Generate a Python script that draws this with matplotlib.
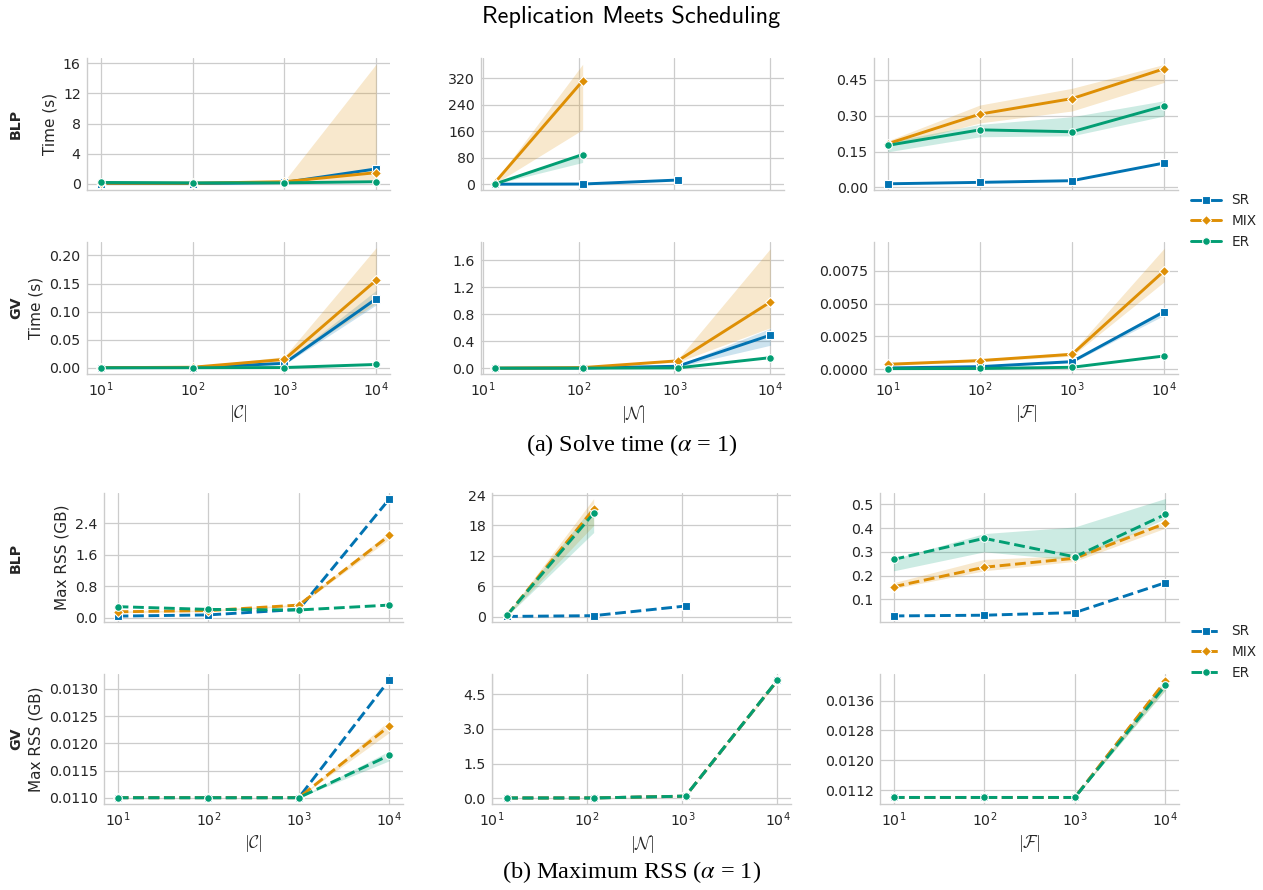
import os
import numpy as np
import matplotlib
matplotlib.use("Agg")
import matplotlib.pyplot as plt
from matplotlib import font_manager as fm
import seaborn as sns
from matplotlib.lines import Line2D
from matplotlib.ticker import ScalarFormatter, NullLocator

sns.set_theme(style="whitegrid")

# register matplotlib's bundled DejaVu Sans under an unambiguous name
_ttf = os.path.join(matplotlib.get_data_path(), "fonts", "ttf")
for _f, _w in [("DejaVuSans.ttf", 400), ("DejaVuSans-Bold.ttf", 700)]:
    _p = os.path.join(_ttf, _f)
    if os.path.exists(_p):
        fm.fontManager.ttflist.append(fm.FontEntry(fname=_p, name="DVSansRef", style="normal",
                                                   variant="normal", weight=_w, stretch="normal",
                                                   size="scalable"))
try:
    fm.fontManager._findfont_cached.cache_clear()
except Exception:
    pass
plt.rcParams['font.family'] = ['DVSansRef', 'DejaVu Sans']

nan = np.nan
# ---------------- data ----------------
series = ["SR", "MIX", "ER"]
colors = {"SR": "#0173B2", "MIX": "#DE8F05", "ER": "#029E73"}
markers = {"SR": "s", "MIX": "D", "ER": "o"}

x_c = [10, 100, 1000, 10000]
x_f = [10, 100, 1000, 10000]
x_n_time = [13.3, 110, 1080, 10000]
x_n_rss = [14.4, 117, 1080, 10000]

# Solve time, BLP, |C|
t_blp_c_sr = [0.05, 0.05, 0.2, 2.0]
t_blp_c_mix = [0.1, 0.1, 0.3, 1.5]
t_blp_c_mix_lo = [0.05, 0.05, 0.2, 0.3]
t_blp_c_mix_hi = [0.15, 0.15, 0.4, 15.9]
t_blp_c_er = [0.2, 0.15, 0.15, 0.3]
# Solve time, GV, |C|
t_gv_c_sr = [0.0002, 0.0005, 0.008, 0.123]
t_gv_c_sr_lo = [0.0001, 0.0003, 0.006, 0.112]
t_gv_c_sr_hi = [0.0003, 0.0007, 0.010, 0.138]
t_gv_c_mix = [0.0003, 0.001, 0.015, 0.156]
t_gv_c_mix_lo = [0.0002, 0.0007, 0.011, 0.115]
t_gv_c_mix_hi = [0.0004, 0.0015, 0.020, 0.214]
t_gv_c_er = [0.0001, 0.0002, 0.0005, 0.006]
# Solve time, BLP, |N|
t_blp_n_sr = [0.5, 1.0, 13, nan]
t_blp_n_mix = [5, 312, nan, nan]
t_blp_n_mix_lo = [2, 165, nan, nan]
t_blp_n_mix_hi = [8, 362, nan, nan]
t_blp_n_er = [1, 90, nan, nan]
t_blp_n_er_lo = [0.5, 66, nan, nan]
t_blp_n_er_hi = [1.5, 95, nan, nan]
# Solve time, GV, |N|
t_gv_n_sr = [0.001, 0.003, 0.03, 0.49]
t_gv_n_sr_lo = [0.0008, 0.002, 0.02, 0.34]
t_gv_n_sr_hi = [0.0012, 0.004, 0.045, 0.59]
t_gv_n_mix = [0.002, 0.01, 0.11, 0.98]
t_gv_n_mix_lo = [0.0015, 0.008, 0.09, 0.60]
t_gv_n_mix_hi = [0.0025, 0.012, 0.13, 1.77]
t_gv_n_er = [0.001, 0.002, 0.005, 0.157]
# Solve time, BLP, |F|
t_blp_f_sr = [0.015, 0.021, 0.028, 0.102]
t_blp_f_mix = [0.183, 0.307, 0.372, 0.497]
t_blp_f_mix_lo = [0.170, 0.270, 0.320, 0.440]
t_blp_f_mix_hi = [0.195, 0.345, 0.415, 0.515]
t_blp_f_er = [0.176, 0.241, 0.233, 0.341]
t_blp_f_er_lo = [0.149, 0.212, 0.216, 0.299]
t_blp_f_er_hi = [0.190, 0.264, 0.296, 0.363]
# Solve time, GV, |F|
t_gv_f_sr = [0.0001, 0.0002, 0.00058, 0.00438]
t_gv_f_sr_lo = [0.00008, 0.00015, 0.0005, 0.0041]
t_gv_f_sr_hi = [0.00012, 0.00025, 0.00066, 0.0046]
t_gv_f_mix = [0.00038, 0.00066, 0.00114, 0.00748]
t_gv_f_mix_lo = [0.0003, 0.00058, 0.00100, 0.00666]
t_gv_f_mix_hi = [0.00045, 0.00075, 0.00130, 0.0092]
t_gv_f_er = [0.00005, 0.00006, 0.00015, 0.00101]

# Max RSS, BLP, |C|
r_blp_c_sr = [0.04, 0.07, 0.21, 3.02]
r_blp_c_mix = [0.15, 0.18, 0.32, 2.09]
r_blp_c_mix_lo = [0.13, 0.16, 0.30, 2.00]
r_blp_c_mix_hi = [0.17, 0.20, 0.34, 2.18]
r_blp_c_er = [0.28, 0.21, 0.196, 0.32]
# Max RSS, GV, |C|
r_gv_c_sr = [0.0110, 0.0110, 0.0110, 0.01317]
r_gv_c_mix = [0.0110, 0.0110, 0.0110, 0.01232]
r_gv_c_mix_lo = [0.0110, 0.0110, 0.0110, 0.01220]
r_gv_c_mix_hi = [0.0110, 0.0110, 0.0110, 0.01242]
r_gv_c_er = [0.0110, 0.0110, 0.0110, 0.01178]
r_gv_c_er_lo = [0.0110, 0.0110, 0.0110, 0.01168]
r_gv_c_er_hi = [0.0110, 0.0110, 0.0110, 0.01186]
# Max RSS, BLP, |N|
r_blp_n_sr = [0.05, 0.2, 2.1, nan]
r_blp_n_mix = [0.3, 21.2, nan, nan]
r_blp_n_mix_lo = [0.1, 18.0, nan, nan]
r_blp_n_mix_hi = [0.5, 23.3, nan, nan]
r_blp_n_er = [0.3, 20.4, nan, nan]
r_blp_n_er_lo = [0.1, 16.6, nan, nan]
r_blp_n_er_hi = [0.5, 22.0, nan, nan]
# Max RSS, GV, |N|
r_gv_n_sr = [0.011, 0.012, 0.09, 5.10]
r_gv_n_mix = [0.011, 0.012, 0.09, 5.11]
r_gv_n_mix_lo = [0.011, 0.012, 0.08, 5.05]
r_gv_n_mix_hi = [0.011, 0.012, 0.10, 5.17]
r_gv_n_er = [0.011, 0.012, 0.09, 5.12]
# Max RSS, BLP, |F|
r_blp_f_sr = [0.030, 0.033, 0.044, 0.170]
r_blp_f_mix = [0.153, 0.235, 0.273, 0.420]
r_blp_f_mix_lo = [0.145, 0.220, 0.260, 0.400]
r_blp_f_mix_hi = [0.170, 0.268, 0.285, 0.432]
r_blp_f_er = [0.268, 0.357, 0.279, 0.458]
r_blp_f_er_lo = [0.220, 0.300, 0.265, 0.440]
r_blp_f_er_hi = [0.270, 0.377, 0.405, 0.525]
# Max RSS, GV, |F|
r_gv_f_sr = [0.0110, 0.0110, 0.0110, 0.01410]
r_gv_f_mix = [0.0110, 0.0110, 0.0110, 0.01413]
r_gv_f_mix_lo = [0.0110, 0.0110, 0.0110, 0.01390]
r_gv_f_mix_hi = [0.0110, 0.0110, 0.0110, 0.01420]
r_gv_f_er = [0.0110, 0.0110, 0.0110, 0.01401]
r_gv_f_er_lo = [0.0110, 0.0110, 0.0110, 0.01388]
r_gv_f_er_hi = [0.0110, 0.0110, 0.0110, 0.01416]

# ---------------- figure ----------------
W, H = 1263, 890
fig = plt.figure(figsize=(W / 100, H / 100), dpi=100)

def ax_at(x0, y0, x1, y1):
    return fig.add_axes([x0 / W, 1 - y1 / H, (x1 - x0) / W, (y1 - y0) / H])

TICK_FS = 10.2
LABEL_FS = 11
LEG_FS = 9.8
GRAY = "#cccccc"
TXT = "#262626"

def style(ax, x):
    ax.set_xscale("log")
    for s in ["top", "right"]:
        ax.spines[s].set_visible(False)
    for s in ["left", "bottom"]:
        ax.spines[s].set_color(GRAY)
        ax.spines[s].set_linewidth(1.0)
    ax.grid(True, color=GRAY, linewidth=0.9)
    ax.tick_params(axis="both", length=0, labelsize=TICK_FS, colors=TXT, pad=4.5)
    # shared x-range per column (5% margins on log scale)
    lx = np.log10([min(x), max(x)])
    span = lx[1] - lx[0]
    ax.set_xlim(10 ** (lx[0] - 0.05 * span), 10 ** (lx[1] + 0.05 * span))
    ax.set_xticks([10, 100, 1000, 10000])
    ax.xaxis.set_minor_locator(NullLocator())

def draw(ax, x, data, ls="-"):
    for name in series:
        d = data[name]
        y = np.array(d[0], dtype=float)
        c = colors[name]
        if len(d) > 1:
            ax.fill_between(x, d[1], d[2], color=c, alpha=0.2, linewidth=0)
        ax.plot(x, y, color=c, lw=2.1, ls=ls, marker=markers[name],
                ms=5.5 if name != "MIX" else 5, mec="white", mew=0.8, zorder=3)

def yfmt(ax, ticks, lim):
    ax.set_yticks(ticks)
    ax.set_ylim(*lim)
    ax.yaxis.set_major_formatter(ScalarFormatter(useOffset=False))

xlabels = [r"$|\mathcal{C}|$", r"$|\mathcal{N}|$", r"$|\mathcal{F}|$"]

cols_top = [(87, 390), (481, 784), (874, 1178)]
rows_top = [(58, 190), (242, 374)]
cols_bot = [(104, 403), (492, 791), (880, 1179)]
rows_bot = [(493, 622), (674, 804)]

top_data = [
    [
        (x_c, {"SR": (t_blp_c_sr,), "MIX": (t_blp_c_mix, t_blp_c_mix_lo, t_blp_c_mix_hi), "ER": (t_blp_c_er,)},
         [0, 4, 8, 12, 16], (-0.8, 16.7)),
        (x_n_time, {"SR": (t_blp_n_sr,), "MIX": (t_blp_n_mix, t_blp_n_mix_lo, t_blp_n_mix_hi),
                    "ER": (t_blp_n_er, t_blp_n_er_lo, t_blp_n_er_hi)},
         [0, 80, 160, 240, 320], (-17, 381)),
        (x_f, {"SR": (t_blp_f_sr,), "MIX": (t_blp_f_mix, t_blp_f_mix_lo, t_blp_f_mix_hi),
               "ER": (t_blp_f_er, t_blp_f_er_lo, t_blp_f_er_hi)},
         [0, 0.15, 0.30, 0.45], (-0.011, 0.542)),
    ],
    [
        (x_c, {"SR": (t_gv_c_sr, t_gv_c_sr_lo, t_gv_c_sr_hi), "MIX": (t_gv_c_mix, t_gv_c_mix_lo, t_gv_c_mix_hi),
               "ER": (t_gv_c_er,)},
         [0, 0.05, 0.10, 0.15, 0.20], (-0.011, 0.224)),
        (x_n_time, {"SR": (t_gv_n_sr, t_gv_n_sr_lo, t_gv_n_sr_hi), "MIX": (t_gv_n_mix, t_gv_n_mix_lo, t_gv_n_mix_hi),
                    "ER": (t_gv_n_er,)},
         [0, 0.4, 0.8, 1.2, 1.6], (-0.085, 1.87)),
        (x_f, {"SR": (t_gv_f_sr, t_gv_f_sr_lo, t_gv_f_sr_hi), "MIX": (t_gv_f_mix, t_gv_f_mix_lo, t_gv_f_mix_hi),
               "ER": (t_gv_f_er,)},
         [0, 0.0025, 0.005, 0.0075], (-0.00036, 0.00968)),
    ],
]

bot_data = [
    [
        (x_c, {"SR": (r_blp_c_sr,), "MIX": (r_blp_c_mix, r_blp_c_mix_lo, r_blp_c_mix_hi), "ER": (r_blp_c_er,)},
         [0, 0.8, 1.6, 2.4], (-0.11, 3.17)),
        (x_n_rss, {"SR": (r_blp_n_sr,), "MIX": (r_blp_n_mix, r_blp_n_mix_lo, r_blp_n_mix_hi),
                   "ER": (r_blp_n_er, r_blp_n_er_lo, r_blp_n_er_hi)},
         [0, 6, 12, 18, 24], (-1.05, 24.4)),
        (x_f, {"SR": (r_blp_f_sr,), "MIX": (r_blp_f_mix, r_blp_f_mix_lo, r_blp_f_mix_hi),
               "ER": (r_blp_f_er, r_blp_f_er_lo, r_blp_f_er_hi)},
         [0.1, 0.2, 0.3, 0.4, 0.5], (0.0044, 0.548)),
    ],
    [
        (x_c, {"SR": (r_gv_c_sr,), "MIX": (r_gv_c_mix, r_gv_c_mix_lo, r_gv_c_mix_hi),
               "ER": (r_gv_c_er, r_gv_c_er_lo, r_gv_c_er_hi)},
         [0.0110, 0.0115, 0.0120, 0.0125, 0.0130], (0.010884, 0.013276)),
        (x_n_rss, {"SR": (r_gv_n_sr,), "MIX": (r_gv_n_mix, r_gv_n_mix_lo, r_gv_n_mix_hi), "ER": (r_gv_n_er,)},
         [0, 1.5, 3.0, 4.5], (-0.25, 5.38)),
        (x_f, {"SR": (r_gv_f_sr,), "MIX": (r_gv_f_mix, r_gv_f_mix_lo, r_gv_f_mix_hi),
               "ER": (r_gv_f_er, r_gv_f_er_lo, r_gv_f_er_hi)},
         [0.0112, 0.0120, 0.0128, 0.0136], (0.010824, 0.014318)),
    ],
]

row_names = ["BLP", "GV"]

def build(block, cols, rows, ls, ylabel, rowlab_x):
    for r, (y0, y1) in enumerate(rows):
        for c, (x0, x1) in enumerate(cols):
            ax = ax_at(x0, y0, x1, y1)
            x, data, ticks, lim = block[r][c]
            style(ax, x)
            draw(ax, x, data, ls=ls)
            yfmt(ax, ticks, lim)
            if r == 0:
                ax.set_xticklabels([])
            else:
                ax.set_xlabel(xlabels[c], fontsize=12.5, color=TXT,
                              math_fontfamily="cm", labelpad=3)
            if c == 0:
                ax.set_ylabel(ylabel, fontsize=LABEL_FS, color=TXT, labelpad=4)
                fig.text(rowlab_x / W, 1 - (y0 + y1) / 2 / H, row_names[r], rotation=90,
                         ha="center", va="center", fontsize=TICK_FS, fontweight="bold", color=TXT)

build(top_data, cols_top, rows_top, "-", "Time (s)", 16)
build(bot_data, cols_bot, rows_bot, "--", "Max RSS (GB)", 16)

def legend(y_top, ls):
    handles = [Line2D([0], [0], color=colors[n], lw=2.1, ls=ls, marker=markers[n],
                      ms=5.5 if n != "MIX" else 5, mec="white", mew=0.8) for n in series]
    fig.legend(handles, series, loc="upper left", bbox_to_anchor=(1186 / W, 1 - y_top / H),
               frameon=False, fontsize=LEG_FS, handlelength=2.2, labelspacing=0.5,
               handletextpad=0.75, borderaxespad=0)

legend(188, "-")
legend(619, "--")

fig.text(0.5, 1 - 17 / H, "Replication Meets Scheduling", ha="center", va="center",
         fontsize=17.5, family="cmss10", color="#000000")
fig.text(0.5, 1 - 445 / H, r"(a) Solve time ($\alpha$ = 1)", ha="center", va="center",
         fontsize=17.5, family="Liberation Serif", math_fontfamily="stix", color="black")
fig.text(0.5, 1 - 872 / H, r"(b) Maximum RSS ($\alpha$ = 1)", ha="center", va="center",
         fontsize=17.5, family="Liberation Serif", math_fontfamily="stix", color="black")

fig.savefig("out.png", dpi=100, facecolor="white")
